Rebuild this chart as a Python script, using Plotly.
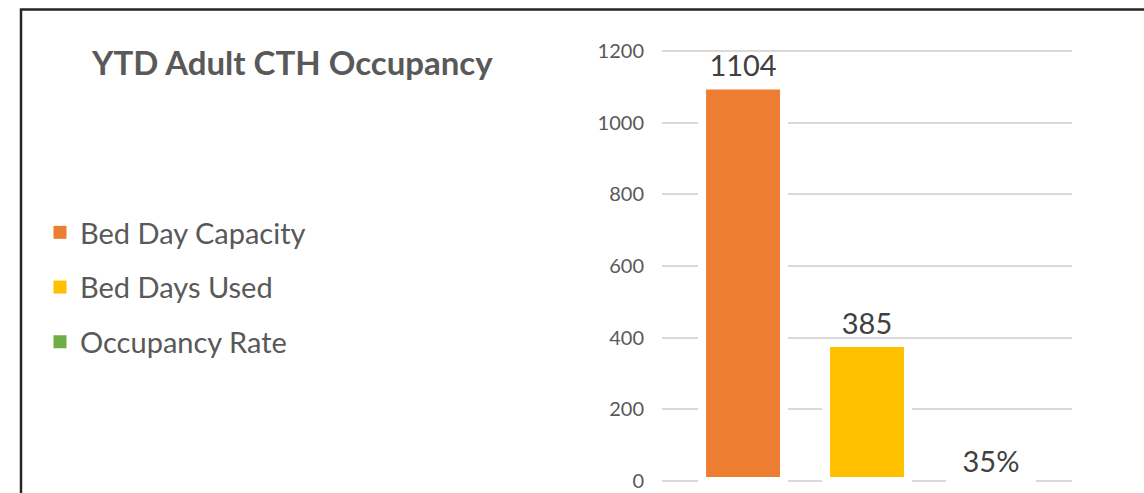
import plotly.graph_objects as go

# Chart data
category = ["YTD"]
series_names = ["Bed Day Capacity", "Bed Days Used", "Occupancy Rate"]
series_values = [1104, 385, 0.35]
value_labels = ["1104", "385", "35%"]
series_colors = ["#ED7D31", "#FFC000", "#70AD47"]

y_ticks = [0, 200, 400, 600, 800, 1000, 1200]
y_max = 1200

FONT = "Lato, 'Open Sans', sans-serif"
GREY = "#595959"
LABEL = "#404040"

W, H = 1144, 493
L, R, T, B = 662, 72, 49, 10
PW, PH = W - L - R, H - T - B
# small padding so the 0 and 1200 gridlines are drawn inside the plot area
PAD_PX = 2
units_per_px = y_max / (PH - 2 * PAD_PX)
y_range = [-PAD_PX * units_per_px, y_max + PAD_PX * units_per_px]

fig = go.Figure()

# One clustered column per series, separated by a white outline
for name, val, lab, col in zip(series_names, series_values, value_labels, series_colors):
    fig.add_trace(go.Bar(
        x=category, y=[val], name=name,
        marker=dict(color=col, line=dict(color="white", width=8)),
        text=[lab], textposition="outside",
        textfont=dict(family=FONT, size=29, color=LABEL),
        showlegend=False, hoverinfo="skip",
    ))

# Legend entries with square swatches
for i, (name, col) in enumerate(zip(series_names, series_colors)):
    fig.add_trace(go.Scatter(
        x=[None], y=[None], mode="markers", name=name,
        legendgroup=f"g{i}",
        marker=dict(symbol="square", size=13, color=col),
    ))

fig.update_layout(
    width=W, height=H,
    margin=dict(l=L, r=R, t=T, b=B),
    paper_bgcolor="white", plot_bgcolor="white",
    barmode="group", bargap=0.093, bargroupgap=0.339,
    font=dict(family=FONT, color=GREY),
    title=dict(
        text="<b>YTD Adult CTH Occupancy</b>",
        font=dict(family=FONT, size=33, color=GREY),
        x=92 / W, xanchor="left", xref="container",
        y=1 - 63 / H, yanchor="middle", yref="container",
    ),
    legend=dict(
        x=(40 - L) / PW, xanchor="left", xref="paper",
        y=(H - B - 207) / PH, yanchor="top", yref="paper",
        font=dict(family=FONT, size=29, color=GREY),
        tracegroupgap=14, bgcolor="rgba(0,0,0,0)",
    ),
    xaxis=dict(showticklabels=False, showgrid=False, zeroline=False,
               showline=False, ticks="", automargin=False),
    yaxis=dict(
        range=y_range, tickvals=y_ticks, ticks="",
        showgrid=True, gridcolor="#D9D9D9", gridwidth=1.5,
        zeroline=False, showline=False, automargin=False,
        tickfont=dict(family=FONT, size=20, color=GREY),
        ticklabelstandoff=17,
    ),
    shapes=[
        # chart frame
        dict(type="rect", xref="paper", yref="paper",
             x0=(21 - L) / PW, x1=(W + 20 - L) / PW,
             y0=(H - B - (H + 30)) / PH, y1=(H - B - 9.5) / PH,
             line=dict(color="#262626", width=2.5), fillcolor="rgba(0,0,0,0)",
             layer="above"),
    ],
)

fig.write_html("out.html")
